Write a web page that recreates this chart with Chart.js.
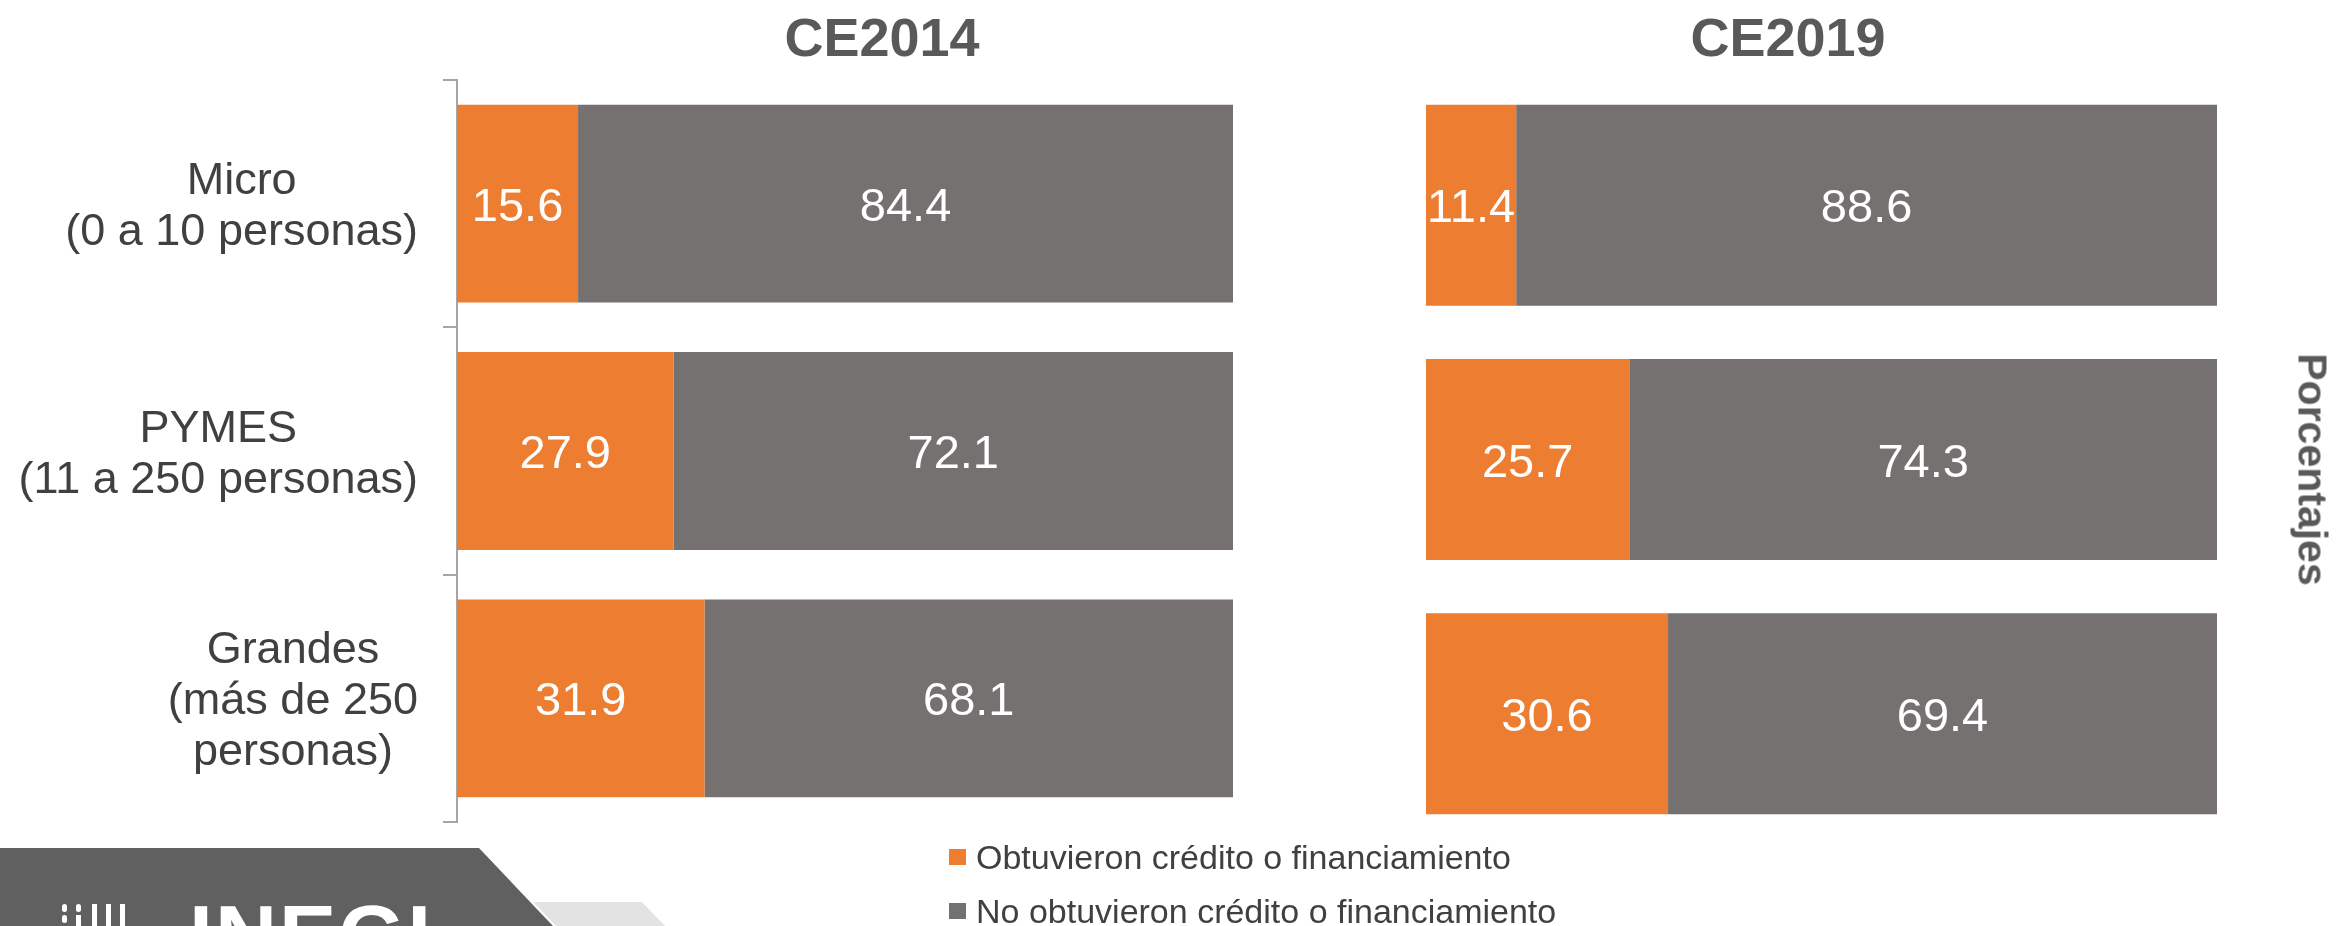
<!DOCTYPE html>
<html lang="es">
<head>
<meta charset="utf-8">
<title>Obtención de crédito o financiamiento por tamaño de unidad económica</title>
<script src="https://cdn.jsdelivr.net/npm/chart.js@4.4.0/dist/chart.umd.min.js"></script>
<style>
  html, body {
    margin: 0;
    padding: 0;
    width: 2336px;
    height: 926px;
    overflow: hidden;
    background: #ffffff;
    font-family: "Liberation Sans", Arial, sans-serif;
  }
  .chart-box {
    position: absolute;
    top: 0;
    height: 926px;
  }
  #box2014 { left: 0; width: 1260px; }
  #box2019 { left: 1300px; width: 1036px; }
  .panel-title {
    position: absolute;
    top: 10px;
    width: 400px;
    text-align: center;
    font-size: 54px;
    line-height: 54px;
    font-weight: bold;
    color: #595959;
  }
  .axis-note {
    position: absolute;
    left: 2162px;
    top: 449px;
    width: 300px;
    text-align: center;
    font-size: 41px;
    line-height: 41px;
    font-weight: bold;
    color: #595959;
    transform: rotate(90deg);
    transform-origin: 150px 20.5px;
  }
  .legend {
    position: absolute;
    left: 949px;
    top: 840px;
  }
  .legend-row {
    display: flex;
    align-items: center;
    height: 34px;
    margin-bottom: 20px;
    font-size: 34px;
    line-height: 34px;
    color: #404040;
    white-space: nowrap;
  }
  .legend-swatch {
    width: 17px;
    height: 16px;
    margin-right: 10px;
    margin-top: -1px;
  }
  .logo {
    position: absolute;
    left: 0;
    top: 848px;
    width: 560px;
    height: 78px;
    background: #606060;
    clip-path: polygon(0 0, 479px 0, 553px 78px, 0 78px);
    overflow: hidden;
  }
  .logo-band {
    position: absolute;
    left: 500px;
    top: 902px;
    width: 200px;
    height: 24px;
    background: #e2e3e2;
    clip-path: polygon(33px 0, 142px 0, 165px 24px, 56px 24px);
  }
  .logo-text {
    position: absolute;
    left: 189px;
    top: 44px;
    font-size: 86px;
    line-height: 86px;
    font-weight: bold;
    color: #ffffff;
    letter-spacing: 2px;
  }
  .logo-mark {
    position: absolute;
    top: 56px;
    width: 5px;
    height: 30px;
    background: #ffffff;
  }
</style>
</head>
<body>

<div class="chart-box" id="box2014"><canvas id="chart2014"></canvas></div>
<div class="chart-box" id="box2019"><canvas id="chart2019"></canvas></div>

<div class="panel-title" id="title2014" style="left: 682px;"></div>
<div class="panel-title" id="title2019" style="left: 1588px;"></div>
<div class="axis-note" id="axisNote"></div>

<div class="legend" id="legend"></div>

<div class="logo">
  <div class="logo-mark" style="left: 62px; height: 8px; border-radius: 4px;"></div>
  <div class="logo-mark" style="left: 62px; top: 67px; height: 8px; border-radius: 4px;"></div>
  <div class="logo-mark" style="left: 76px; height: 8px; border-radius: 4px;"></div>
  <div class="logo-mark" style="left: 76px; top: 67px;"></div>
  <div class="logo-mark" style="left: 92px;"></div>
  <div class="logo-mark" style="left: 106px;"></div>
  <div class="logo-mark" style="left: 120px;"></div>
  <div class="logo-text">INEGI</div>
</div>
<div class="logo-band"></div>

<script>
// Data (percentages)
const categories = [
  ['Micro', '(0 a 10 personas)'],
  ['PYMES', '(11 a 250 personas)'],
  ['Grandes', '(más de 250', 'personas)']
];
const seriesNames = ['Obtuvieron crédito o financiamiento', 'No obtuvieron crédito o financiamiento'];
const panelTitles = ['CE2014', 'CE2019'];
const axisNote = 'Porcentajes';

const obtuvieron2014 = [15.6, 27.9, 31.9];
const noObtuvieron2014 = [84.4, 72.1, 68.1];
const obtuvieron2019 = [11.4, 25.7, 30.6];
const noObtuvieron2019 = [88.6, 74.3, 69.4];

const seriesColors = ['#ED7D31', '#757171'];
const fontFamily = '"Liberation Sans", Arial, sans-serif';

Chart.defaults.font.family = fontFamily;

// White value labels centred in each bar segment
const valueLabels = {
  id: 'valueLabels',
  afterDatasetsDraw(chart) {
    const ctx = chart.ctx;
    ctx.save();
    ctx.fillStyle = '#ffffff';
    ctx.font = '47px ' + fontFamily;
    ctx.textAlign = 'center';
    ctx.textBaseline = 'alphabetic';
    chart.data.datasets.forEach((ds, i) => {
      chart.getDatasetMeta(i).data.forEach((bar, j) => {
        const p = bar.getProps(['x', 'y', 'base'], true);
        ctx.fillText(ds.data[j].toFixed(1), (p.x + p.base) / 2, p.y + 17);
      });
    });
    ctx.restore();
  }
};

// Category names: lines centred on each other, block aligned to the axis side
const categoryLabels = {
  id: 'categoryLabels',
  afterDraw(chart, args, opts) {
    if (!opts.show) return;
    const ctx = chart.ctx;
    const yScale = chart.scales.y;
    const right = chart.chartArea.left - 39;
    const lineHeight = 51;
    ctx.save();
    ctx.fillStyle = '#404040';
    ctx.font = '45px ' + fontFamily;
    ctx.textAlign = 'center';
    ctx.textBaseline = 'alphabetic';
    chart.data.labels.forEach((lines, i) => {
      const yc = yScale.getPixelForValue(i);
      const widest = Math.max(...lines.map(l => ctx.measureText(l).width));
      const cx = right - widest / 2;
      lines.forEach((line, k) => {
        const y = yc + (k - (lines.length - 1) / 2) * lineHeight + 16;
        ctx.fillText(line, cx, y);
      });
    });
    ctx.restore();
  }
};

function buildChart(canvasId, values1, values2, opts) {
  const ctx = document.getElementById(canvasId).getContext('2d');
  return new Chart(ctx, {
    type: 'bar',
    data: {
      labels: categories,
      datasets: [
        {
          label: seriesNames[0],
          data: values1,
          backgroundColor: seriesColors[0],
          borderWidth: 0,
          barPercentage: opts.barPercentage,
          categoryPercentage: 1
        },
        {
          label: seriesNames[1],
          data: values2,
          backgroundColor: seriesColors[1],
          borderWidth: 0,
          barPercentage: opts.barPercentage,
          categoryPercentage: 1
        }
      ]
    },
    options: {
      indexAxis: 'y',
      responsive: true,
      maintainAspectRatio: false,
      animation: false,
      layout: { padding: opts.padding },
      scales: {
        x: {
          stacked: true,
          min: 0,
          max: 100,
          display: false
        },
        y: {
          stacked: true,
          display: opts.showAxis,
          ticks: { display: false },
          grid: {
            display: true,
            drawOnChartArea: false,
            drawTicks: true,
            tickLength: 14,
            color: '#a6a6a6',
            lineWidth: 2
          },
          border: { display: true, color: '#a6a6a6', width: 2 }
        }
      },
      plugins: {
        legend: { display: false },
        tooltip: { enabled: false },
        title: { display: false },
        categoryLabels: { show: opts.showAxis }
      }
    },
    plugins: [valueLabels, categoryLabels]
  });
}

buildChart('chart2014', obtuvieron2014, noObtuvieron2014, {
  barPercentage: 0.8,
  showAxis: true,
  padding: { left: 443, right: 27, top: 80, bottom: 104 }
});

buildChart('chart2019', obtuvieron2019, noObtuvieron2019, {
  barPercentage: 0.79,
  showAxis: false,
  padding: { left: 126, right: 119, top: 78, bottom: 85 }
});

// Titles, side note and legend
document.getElementById('title2014').textContent = panelTitles[0];
document.getElementById('title2019').textContent = panelTitles[1];
document.getElementById('axisNote').textContent = axisNote;

document.getElementById('legend').innerHTML = seriesNames.map((name, i) => `
  <div class="legend-row">
    <div class="legend-swatch" style="background:${seriesColors[i]}"></div>
    <span>${name}</span>
  </div>
`).join('');
</script>
</body>
</html>
